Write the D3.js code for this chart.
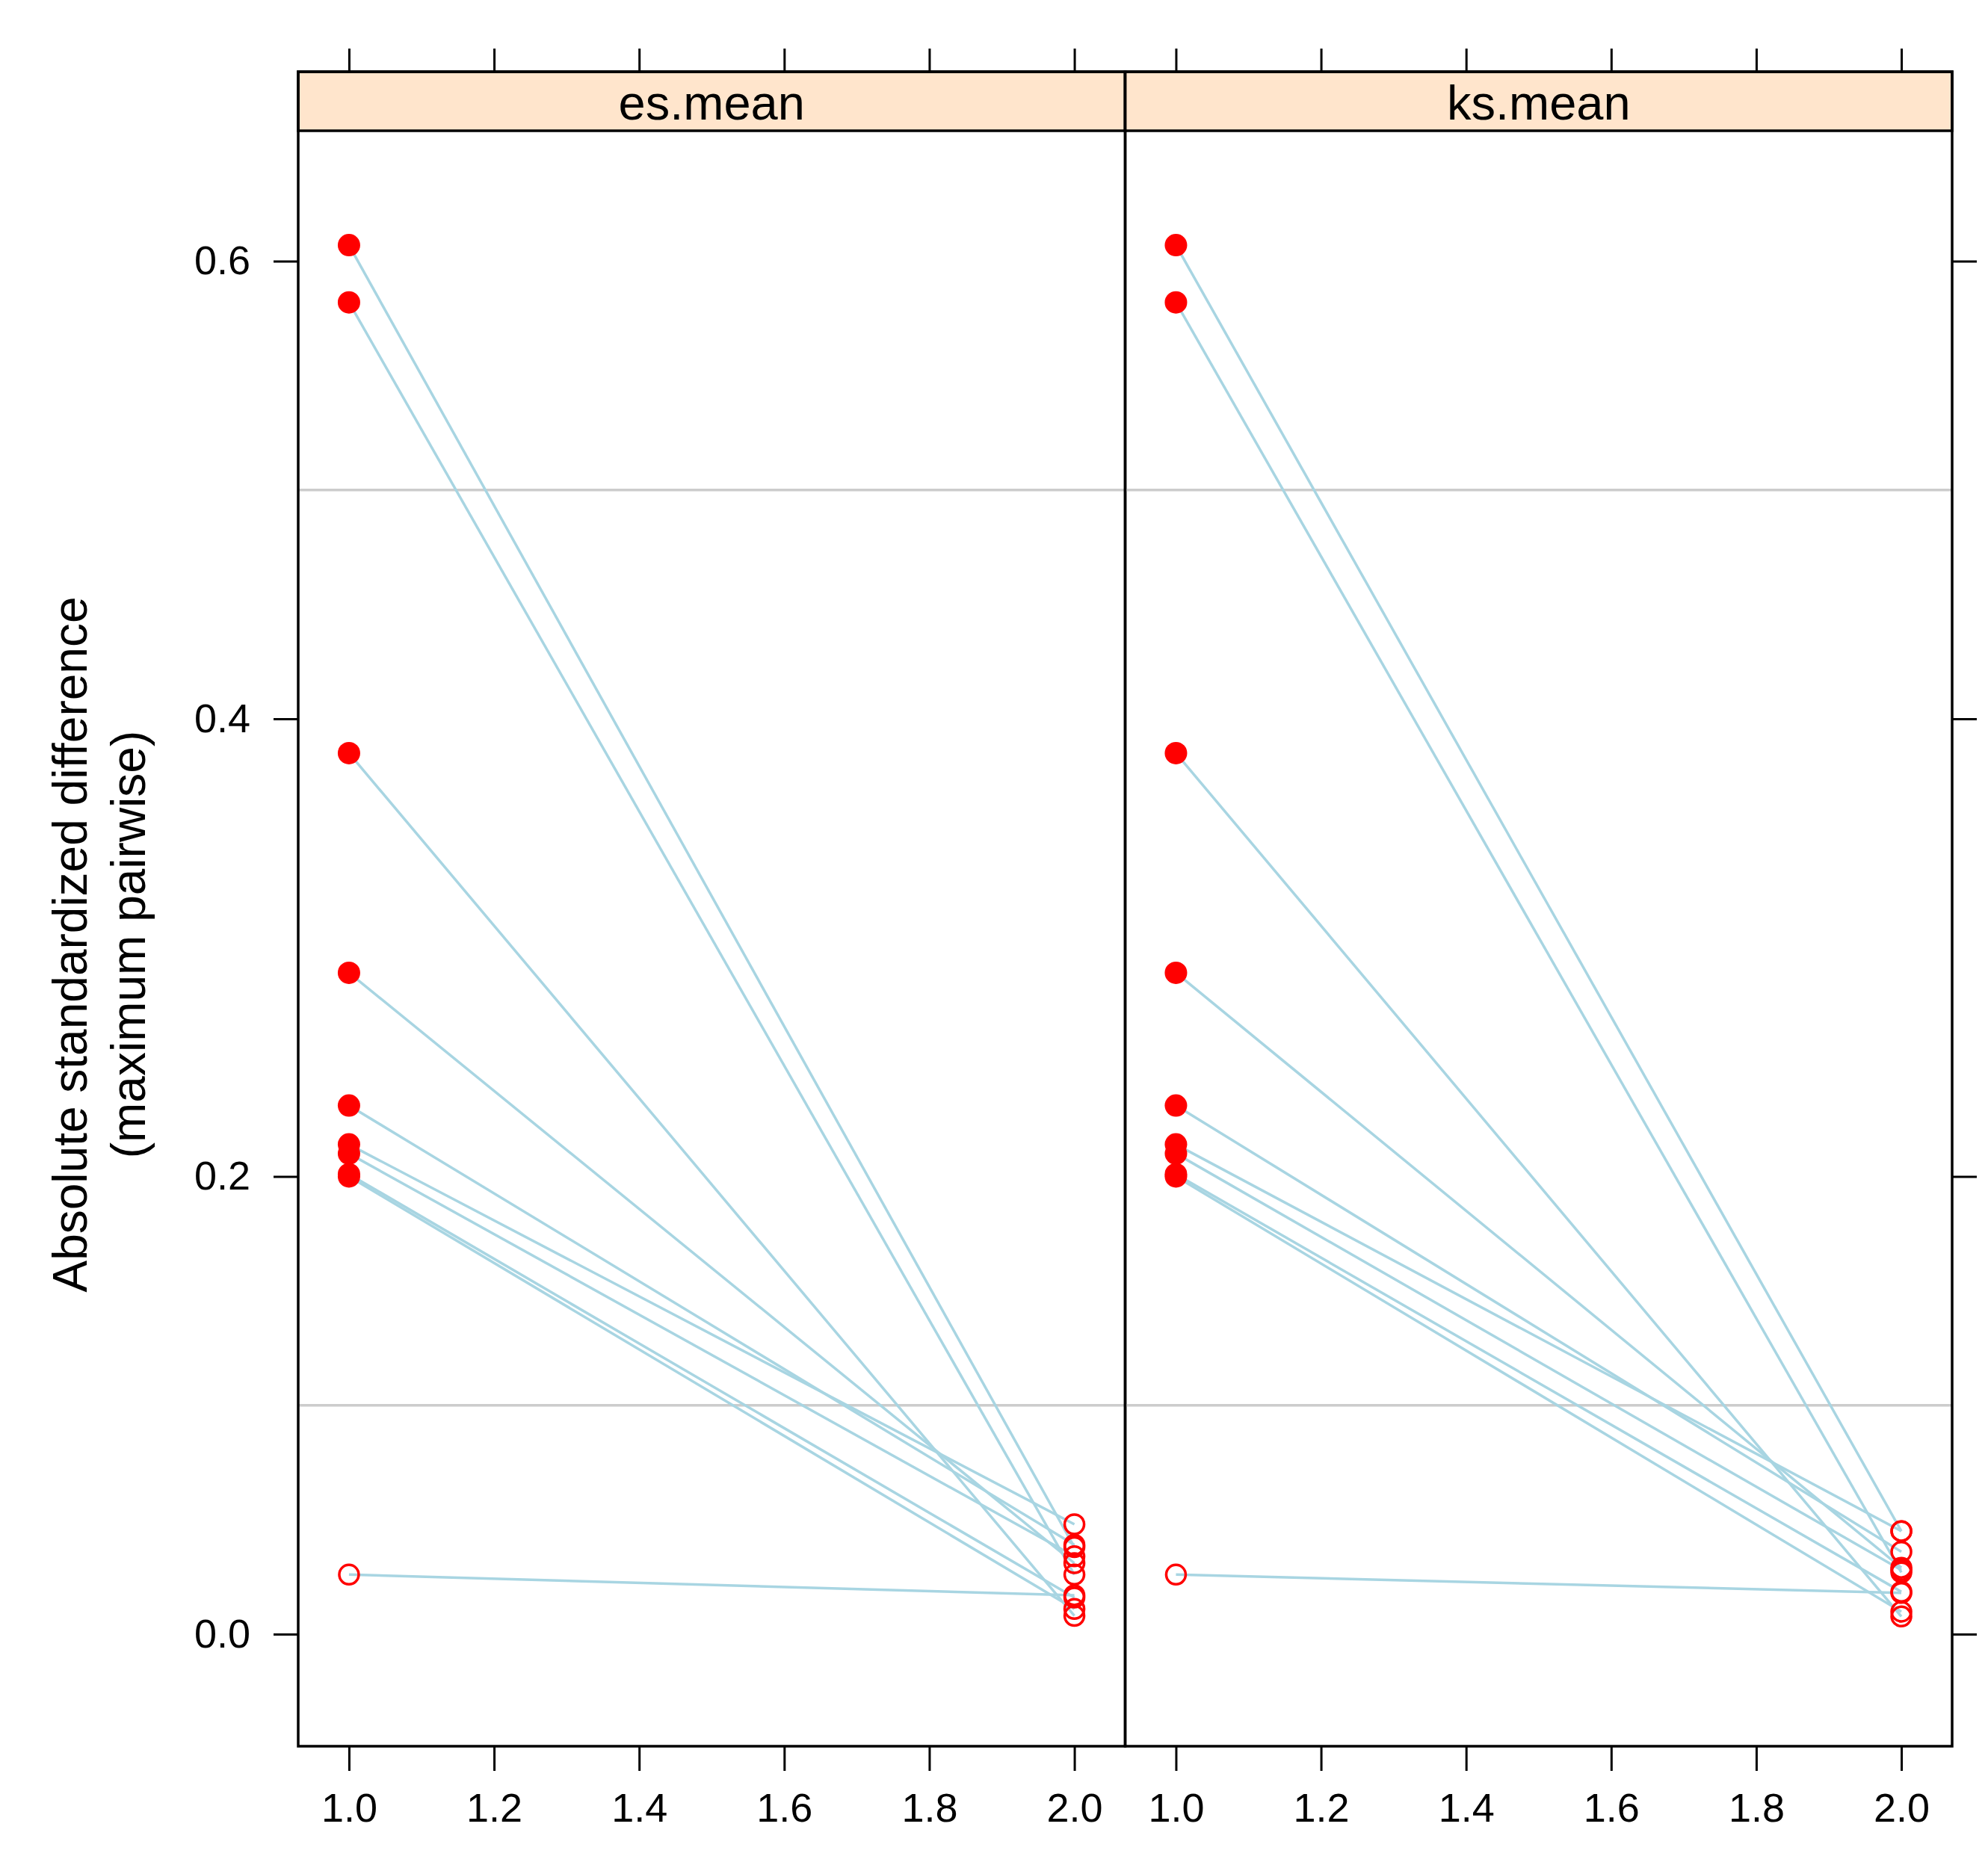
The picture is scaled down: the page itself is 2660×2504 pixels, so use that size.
<!DOCTYPE html>
<html>
<head>
<meta charset="utf-8">
<script src="https://cdn.jsdelivr.net/npm/d3@7"></script>
<style>
  body { margin: 0; background: #fff; }
  text { font-family: "Liberation Sans", Arial, Helvetica, sans-serif; fill: #000; }
</style>
</head>
<body>
<div id="viz"></div>
<script>
// x positions of the two stages (unweighted, weighted)
const stages = [1, 2];
const panels = ["es.mean", "ks.mean"];

// max pairwise absolute standardized difference, one entry per covariate
const unweighted = [0.607, 0.582, 0.385, 0.289, 0.231, 0.214, 0.210, 0.201, 0.200, 0.026];
const unweightedSig = [true, true, true, true, true, true, true, true, true, false];
const esWeighted = [0.038, 0.026, 0.008, 0.031, 0.039, 0.048, 0.034, 0.016, 0.011, 0.017];
const ksWeighted = [0.045, 0.027, 0.0077, 0.029, 0.036, 0.045, 0.028, 0.0185, 0.0098, 0.018];
const weighted = [esWeighted, ksWeighted];

const xTicks = [1.0, 1.2, 1.4, 1.6, 1.8, 2.0];
const yTicks = [0.0, 0.2, 0.4, 0.6];
const refLines = [0.1, 0.5];

const width = 2660;
const height = 2504;
const frame = { left: 399, right: 2612, top: 96, strip: 175, bottom: 2337 };
const panelWidth = (frame.right - frame.left) / panels.length;
const tickLen = 33;

const svg = d3.select("#viz").append("svg")
    .attr("width", width)
    .attr("height", height);

const y = d3.scaleLinear()
    .domain([-0.049, 0.657])
    .range([frame.bottom, frame.strip]);

panels.forEach((name, p) => {
    const x0 = frame.left + p * panelWidth;
    const x = d3.scaleLinear()
        .domain([0.93, 2.07])
        .range([x0, x0 + panelWidth]);

    const g = svg.append("g").attr("class", "panel");

    // reference lines
    g.selectAll(".ref")
        .data(refLines)
        .join("line")
            .attr("x1", x0)
            .attr("x2", x0 + panelWidth)
            .attr("y1", d => y(d))
            .attr("y2", d => y(d))
            .attr("stroke", "#cccccc")
            .attr("stroke-width", 3.5);

    const rows = unweighted.map((u, i) => ({
        pts: [
            { x: stages[0], y: u, sig: unweightedSig[i] },
            { x: stages[1], y: weighted[p][i], sig: false }
        ]
    }));

    g.selectAll(".seg")
        .data(rows)
        .join("line")
            .attr("class", "seg")
            .attr("x1", d => x(d.pts[0].x))
            .attr("y1", d => y(d.pts[0].y))
            .attr("x2", d => x(d.pts[1].x))
            .attr("y2", d => y(d.pts[1].y))
            .attr("stroke", "#a8d5e2")
            .attr("stroke-width", 3.5);

    g.selectAll(".pt")
        .data(rows.flatMap(d => d.pts))
        .join("circle")
            .attr("class", "pt")
            .attr("cx", d => x(d.x))
            .attr("cy", d => y(d.y))
            .attr("r", d => d.sig ? 15 : 13)
            .attr("fill", d => d.sig ? "#ff0000" : "none")
            .attr("stroke", "#ff0000")
            .attr("stroke-width", d => d.sig ? 0 : 3.5);

    // strip
    g.append("rect")
        .attr("x", x0)
        .attr("y", frame.top)
        .attr("width", panelWidth)
        .attr("height", frame.strip - frame.top)
        .attr("fill", "#ffe5cc")
        .attr("stroke", "#000")
        .attr("stroke-width", 3.5);

    g.append("text")
        .attr("x", x0 + panelWidth / 2)
        .attr("y", 160)
        .attr("text-anchor", "middle")
        .style("font-size", "65px")
        .text(name);

    // panel border
    g.append("rect")
        .attr("x", x0)
        .attr("y", frame.top)
        .attr("width", panelWidth)
        .attr("height", frame.bottom - frame.top)
        .attr("fill", "none")
        .attr("stroke", "#000")
        .attr("stroke-width", 3.5);

    // bottom axis with labels
    const bottom = svg.append("g")
        .attr("transform", `translate(0,${frame.bottom})`)
        .call(d3.axisBottom(x).tickValues(xTicks).tickFormat(d3.format(".1f"))
            .tickSize(tickLen).tickPadding(30));

    // top axis, ticks only
    const top = svg.append("g")
        .attr("transform", `translate(0,${frame.top})`)
        .call(d3.axisTop(x).tickValues(xTicks).tickFormat("").tickSize(31));

    [bottom, top].forEach(a => {
        a.select(".domain").remove();
        a.selectAll(".tick line").attr("stroke", "#000").attr("stroke-width", 3);
        a.selectAll(".tick text").style("font-size", "54px").attr("fill", "#000");
    });
});

// left axis with labels
const left = svg.append("g")
    .attr("transform", `translate(${frame.left},0)`)
    .call(d3.axisLeft(y).tickValues(yTicks).tickFormat(d3.format(".1f"))
        .tickSize(tickLen).tickPadding(31));

// right axis, ticks only
const right = svg.append("g")
    .attr("transform", `translate(${frame.right},0)`)
    .call(d3.axisRight(y).tickValues(yTicks).tickFormat("").tickSize(tickLen));

[left, right].forEach(a => {
    a.select(".domain").remove();
    a.selectAll(".tick line").attr("stroke", "#000").attr("stroke-width", 3);
    a.selectAll(".tick text").style("font-size", "54px").attr("fill", "#000");
});

// y axis title
const title = svg.append("text")
    .attr("transform", `translate(116,${(frame.strip + frame.bottom) / 2 + 8}) rotate(-90)`)
    .attr("text-anchor", "middle")
    .style("font-size", "64px");

title.append("tspan")
    .attr("x", 0)
    .attr("dy", 0)
    .text("Absolute standardized difference");

title.append("tspan")
    .attr("x", 0)
    .attr("dy", 78)
    .text("(maximum pairwise)");
</script>
</body>
</html>
